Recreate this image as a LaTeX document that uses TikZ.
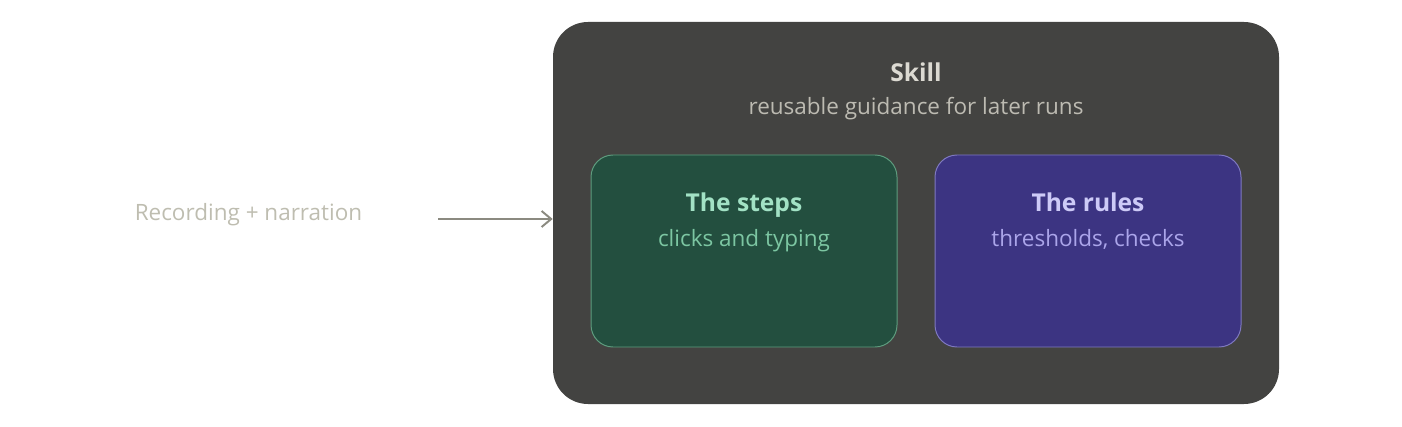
\documentclass[tikz,border=0pt]{standalone}
\usepackage{fontspec}
\setmainfont{Open Sans}
\usetikzlibrary{arrows.meta, positioning}

\definecolor{skillfill}{HTML}{434341}
\definecolor{skilltext}{HTML}{DCDAD2}
\definecolor{skillsub}{HTML}{BDBBB2}
\definecolor{stepsfill}{HTML}{234F3F}
\definecolor{stepsline}{HTML}{5E9C7E}
\definecolor{stepstext}{HTML}{A2E2C5}
\definecolor{stepssub}{HTML}{7CC6A2}
\definecolor{rulesfill}{HTML}{3C3482}
\definecolor{rulesline}{HTML}{7F79C0}
\definecolor{rulestext}{HTML}{CDCAF7}
\definecolor{rulessub}{HTML}{ABA5EA}
\definecolor{inputtext}{HTML}{BEBDB0}
\definecolor{inputarrow}{HTML}{8B8A80}

\begin{document}
\begin{tikzpicture}[
  outer/.style={rectangle, rounded corners=0.875cm, fill=skillfill, minimum width=18.15cm, minimum height=9.55cm},
  part/.style={rectangle, rounded corners=0.55cm, line width=0.7pt, minimum width=7.65cm, minimum height=4.8cm},
  title/.style={anchor=base, font=\fontsize{17.5}{21}\selectfont\bfseries},
  sub/.style={anchor=base, font=\fontsize{16}{19}\selectfont},
  arrow/.style={-{Straight Barb[length=2.4mm, width=4mm, line width=1.4pt]}, line width=1.5pt}
]
\useasboundingbox (0,0) rectangle (35.05,10.65);

% Skill container
\node[outer] (skill) at (22.9,5.325) {};
\node[title, text=skilltext] (skilltitle) at (22.9,8.6) {Skill};
\node[sub, text=skillsub] (skillsub) at (22.9,7.775) {reusable guidance for later runs};

% Inner parts
\node[part, fill=stepsfill, draw=stepsline] (steps) at (18.6,4.375) {};
\node[title, text=stepstext] at (18.6,5.35) {The steps};
\node[sub, text=stepssub] at (18.6,4.475) {clicks and typing};

\node[part, fill=rulesfill, draw=rulesline] (rules) at (27.2,4.375) {};
\node[title, text=rulestext] at (27.2,5.35) {The rules};
\node[sub, text=rulessub] at (27.2,4.475) {thresholds, checks};

% Input
\node[sub, text=inputtext] (input) at (6.2125,5.125) {Recording + narration};
\coordinate (arrowstart) at (10.95,5.175);
\draw[arrow, inputarrow] (arrowstart) -- (arrowstart -| skill.west);

\end{tikzpicture}
\end{document}
